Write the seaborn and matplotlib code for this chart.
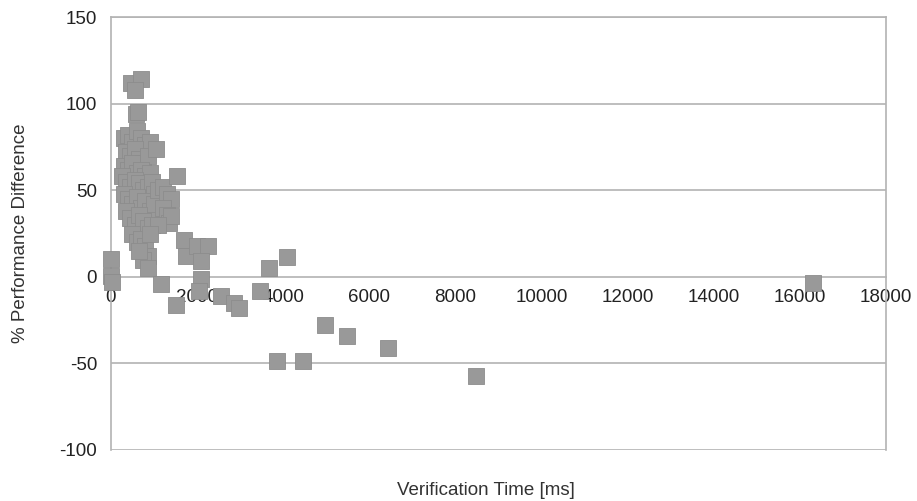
import numpy as np
import pandas as pd
import matplotlib
matplotlib.use("Agg")
import matplotlib.pyplot as plt
import seaborn as sns

# verification time [ms] and % performance difference
verif_time = [
    0, 0, 30,
    460, 700, 560, 580, 620,
    300, 400, 500, 600, 700, 800, 900, 350, 450, 550, 650, 750, 850, 1050,
    300, 400, 500, 600, 700, 800, 900, 250, 350, 450, 550, 650, 750, 850, 950, 1000,
    300, 400, 500, 600, 700, 800, 900, 1000, 1100, 1200, 1300, 1400, 1530,
    1200, 1300, 1350, 1400, 350, 450, 550, 650, 750, 850, 950, 1100,
    500, 600, 700, 800, 850, 750, 850, 650, 900,
    1700, 1750, 2000, 2250, 2100, 2100, 2050, 1160, 1500,
    2550, 2850, 2970, 3460, 3670, 4100, 3850, 4450, 4970, 5480, 6430, 8490, 16310,
]
perf_diff = [
    10.5, 0.5, -3,
    112, 114, 108, 94, 95,
    80, 82, 78, 84, 80, 76, 78, 72, 70, 74, 68, 66, 70, 74,
    64, 62, 66, 60, 62, 58, 60, 58, 55, 52, 56, 54, 50, 52, 55, 48,
    48, 45, 42, 46, 40, 44, 38, 42, 50, 52, 48, 45, 58,
    40, 36, 31, 35, 38, 34, 30, 36, 32, 28, 30, 30,
    25, 20, 22, 18, 12, 10, 5, 15, 25,
    21, 12, 18, 18, 9, -1, -8, -4, -16,
    -11, -15, -18, -8, 5, 11.5, -48.6, -48.6, -28, -34, -41, -57, -3.5,
]

df = pd.DataFrame({"time": verif_time, "diff": perf_diff})

sns.set_style("white")
plt.rcParams["font.family"] = ["Liberation Sans", "DejaVu Sans"]
plt.rcParams["axes.unicode_minus"] = False

fig = plt.figure(figsize=(9.17, 5.01), dpi=100)
ax = fig.add_axes([0.121, 0.1018, 0.845, 0.864])

grid_c = "#b3b3b3"
for yv in [-100, -50, 50, 100, 150]:
    ax.axhline(yv, color=grid_c, lw=1.2, zorder=1)

sns.scatterplot(data=df, x="time", y="diff", marker="s", s=140,
                color="#999999", edgecolor="#8c8c8c", linewidth=0.6,
                zorder=3, ax=ax)
ax.collections[-1].set_clip_on(False)

ax.set_xlim(0, 18000)
ax.set_ylim(-100, 150)
ax.set_xticks(np.arange(0, 18001, 2000))
ax.set_yticks(np.arange(-100, 151, 50))

for s in ["top", "right", "left", "bottom"]:
    ax.spines[s].set_color(grid_c)
    ax.spines[s].set_linewidth(1.2)
ax.spines["bottom"].set_position(("data", 0))

ax.tick_params(axis="both", colors=grid_c, labelcolor="#222222",
               labelsize=13.5, length=7, width=1.2, direction="out")
ax.tick_params(axis="x", pad=2)
ax.tick_params(axis="y", pad=3)

ax.set_xlabel("")
ax.set_ylabel("% Performance Difference", fontsize=13.5, color="#333333", labelpad=22)
fig.text(0.53, 0.012, "Verification Time [ms]", ha="center", fontsize=13.5, color="#333333")

fig.savefig("out.png", dpi=100, facecolor="white")
